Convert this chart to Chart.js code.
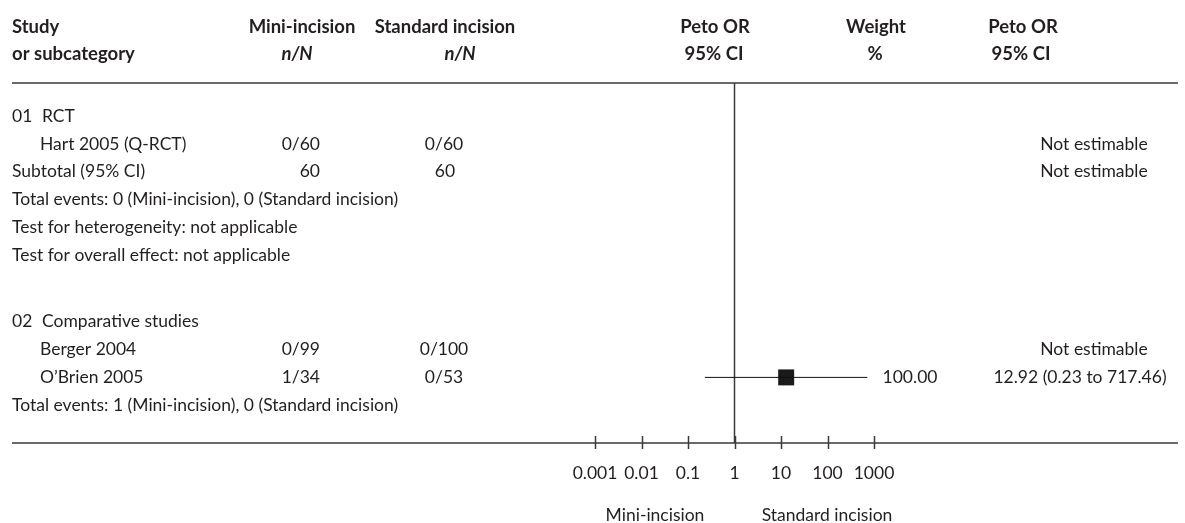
<!DOCTYPE html>
<html>
<head>
<meta charset="utf-8">
<script src="https://cdn.jsdelivr.net/npm/chart.js@4.4.0/dist/chart.umd.min.js"></script>
<style>
  html, body { margin: 0; padding: 0; background: #fff; }
  #forest { display: block; }
</style>
</head>
<body>
<canvas id="forest" width="1185" height="523"></canvas>
<script>
// Study data (events / totals per arm)
const studies = ['Hart 2005 (Q-RCT)', 'Berger 2004', 'O\u2019Brien 2005'];
const miniEvents = [0, 0, 1];
const miniTotals = [60, 99, 34];
const stdEvents = [0, 0, 0];
const stdTotals = [60, 100, 53];

// Peto odds ratios with 95% CI (null = not estimable)
const petoOR = [null, null, 12.92];
const ciLower = [null, null, 0.23];
const ciUpper = [null, null, 717.46];
const weights = [null, null, 100.00];

// Subgroups
const groupNumbers = ['01', '02'];
const groupTitles = ['RCT', 'Comparative studies'];
const subtotalMini = 60;
const subtotalStd = 60;

// Axis ticks
const tickValues = [0.001, 0.01, 0.1, 1, 10, 100, 1000];
const tickLabels = ['0.001', '0.01', '0.1', '1', '10', '100', '1000'];
const favourLabels = ['Mini-incision', 'Standard incision'];

// Row slots (in row units, top to bottom)
const studyRow = [1, 8.4, 9.4];
const groupRow = [0, 7.4];

const FONT = 'Lato, "Open Sans", sans-serif';
const TEXT = '#231f20';
const LINE = '#3a3a3a';

function fmtCI(i) {
    return petoOR[i].toFixed(2) + ' (' + ciLower[i].toFixed(2) + ' to ' + ciUpper[i].toFixed(2) + ')';
}

// Build marks for estimable studies
const squares = [];
const ciLines = [];
studies.forEach(function(s, i) {
    if (petoOR[i] === null) return;
    squares.push({ x: petoOR[i], y: studyRow[i] });
    ciLines.push({
        type: 'line',
        data: [{ x: ciLower[i], y: studyRow[i] }, { x: ciUpper[i], y: studyRow[i] }],
        borderColor: '#111',
        borderWidth: 1,
        pointRadius: 0,
        clip: false
    });
});

const Y_MIN = -1.19;
const Y_MAX = 11.76;

const tablePlugin = {
    id: 'forestTable',
    afterDraw: function(chart) {
        const ctx = chart.ctx;
        const xs = chart.scales.x;
        const ys = chart.scales.y;
        const area = chart.chartArea;
        const rowY = function(r) { return ys.getPixelForValue(r); };

        ctx.save();
        ctx.fillStyle = TEXT;
        ctx.textBaseline = 'middle';

        const regular = '17.5px ' + FONT;
        const bold = 'bold 18.5px ' + FONT;
        const boldIt = 'italic bold 18.5px ' + FONT;
        function txt(s, x, y, align, font) {
            ctx.font = font || regular;
            ctx.textAlign = align || 'left';
            ctx.fillText(s, x, y);
        }

        // Header
        txt('Study', 12, 27, 'left', bold);
        txt('or subcategory', 12, 54, 'left', bold);
        txt('Mini-incision', 302, 27, 'center', bold);
        txt('n/N', 297, 54, 'center', boldIt);
        txt('Standard incision', 445, 27, 'center', bold);
        txt('n/N', 460, 54, 'center', boldIt);
        txt('Peto OR', 715, 27, 'center', bold);
        txt('95% CI', 714, 54, 'center', bold);
        txt('Weight', 876, 27, 'center', bold);
        txt('%', 875, 54, 'center', bold);
        txt('Peto OR', 1023, 27, 'center', bold);
        txt('95% CI', 1021, 54, 'center', bold);

        // Rules above and below the body
        ctx.strokeStyle = LINE;
        ctx.lineWidth = 1.5;
        ctx.beginPath();
        ctx.moveTo(12, area.top); ctx.lineTo(1178, area.top);
        ctx.moveTo(12, area.bottom); ctx.lineTo(1178, area.bottom);
        ctx.stroke();

        // Group headings
        groupNumbers.forEach(function(n, g) {
            txt(n, 12, rowY(groupRow[g]));
            txt(groupTitles[g], 42, rowY(groupRow[g]));
        });

        // Study rows
        studies.forEach(function(s, i) {
            const y = rowY(studyRow[i]);
            txt(s, 40, y);
            txt(miniEvents[i] + '/' + miniTotals[i], 320, y, 'right');
            txt(stdEvents[i] + '/' + stdTotals[i], 444, y, 'center');
            if (petoOR[i] === null) {
                txt('Not estimable', 1094, y, 'center');
            } else {
                txt(weights[i].toFixed(2), 910, y, 'center');
                txt(fmtCI(i), 1080, y, 'center');
            }
        });

        // Subgroup 01 summary
        txt('Subtotal (95% CI)', 12, rowY(2));
        txt(String(subtotalMini), 320, rowY(2), 'right');
        txt(String(subtotalStd), 445, rowY(2), 'center');
        txt('Not estimable', 1094, rowY(2), 'center');
        const ev1 = miniEvents[0];
        const ev1s = stdEvents[0];
        txt('Total events: ' + ev1 + ' (Mini-incision), ' + ev1s + ' (Standard incision)', 12, rowY(3));
        txt('Test for heterogeneity: not applicable', 12, rowY(4));
        txt('Test for overall effect: not applicable', 12, rowY(5));

        // Subgroup 02 summary
        const ev2 = miniEvents[1] + miniEvents[2];
        const ev2s = stdEvents[1] + stdEvents[2];
        txt('Total events: ' + ev2 + ' (Mini-incision), ' + ev2s + ' (Standard incision)', 12, rowY(10.4));

        // Axis ticks and labels
        ctx.strokeStyle = LINE;
        ctx.lineWidth = 1.5;
        ctx.beginPath();
        tickValues.forEach(function(v) {
            const px = Math.round(xs.getPixelForValue(v)) + 0.5;
            ctx.moveTo(px, area.bottom - 7);
            ctx.lineTo(px, area.bottom + 6);
        });
        ctx.stroke();
        tickValues.forEach(function(v, i) {
            txt(tickLabels[i], xs.getPixelForValue(v), area.bottom + 30, 'center');
        });

        txt(favourLabels[0], 655, 515, 'center');
        txt(favourLabels[1], 827, 515, 'center');
        ctx.restore();
    }
};

const ctx = document.getElementById('forest').getContext('2d');
new Chart(ctx, {
    type: 'scatter',
    data: {
        datasets: ciLines.concat([
            {
                // line of no effect
                type: 'line',
                data: [{ x: 1, y: Y_MIN }, { x: 1, y: Y_MAX }],
                borderColor: LINE,
                borderWidth: 1.5,
                pointRadius: 0,
                clip: false
            },
            {
                data: squares,
                pointStyle: 'rect',
                pointRadius: 11.3,
                backgroundColor: '#1a1a1a',
                borderWidth: 0
            }
        ])
    },
    options: {
        responsive: false,
        animation: false,
        devicePixelRatio: 1,
        layout: { padding: { left: 595, right: 311, top: 83, bottom: 80 } },
        plugins: { legend: { display: false }, tooltip: { enabled: false } },
        scales: {
            x: { type: 'logarithmic', min: 0.001, max: 1000, display: false },
            y: { type: 'linear', min: Y_MIN, max: Y_MAX, reverse: true, display: false }
        }
    },
    plugins: [tablePlugin]
});
</script>
</body>
</html>
